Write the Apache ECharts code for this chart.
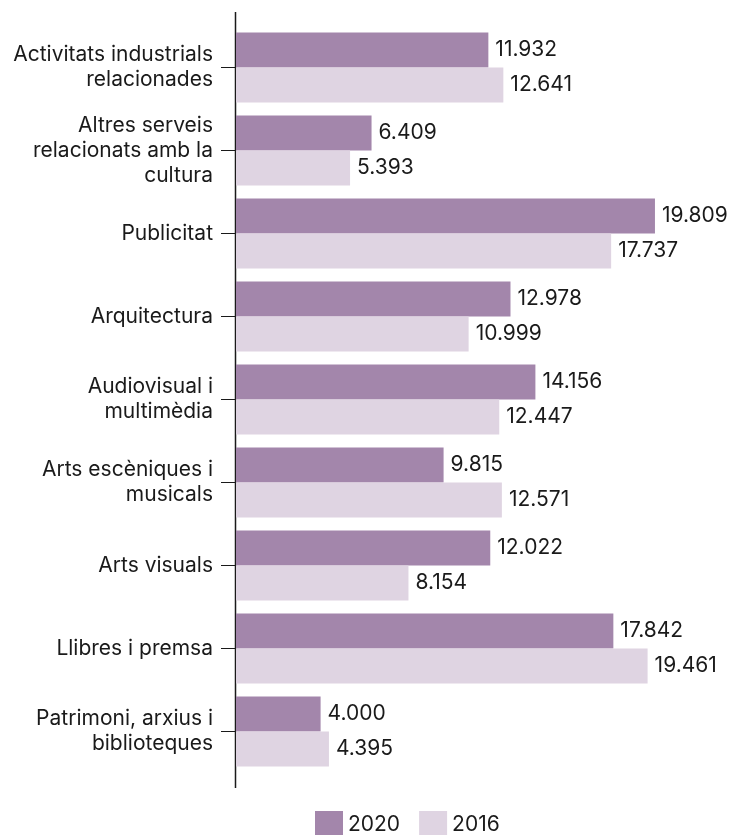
<!DOCTYPE html>
<html><head><meta charset="utf-8">
<script src="https://cdn.jsdelivr.net/npm/echarts@6/dist/echarts.min.js"></script>
<style>html,body{margin:0;padding:0;background:#fff}#c{width:731px;height:835px}</style>
</head><body><div id="c"></div>
<script>
const categories = ["Activitats industrials\nrelacionades","Altres serveis\nrelacionats amb la\ncultura","Publicitat","Arquitectura","Audiovisual i\nmultimèdia","Arts escèniques i\nmusicals","Arts visuals","Llibres i premsa","Patrimoni, arxius i\nbiblioteques"];
const values2020 = [11932, 6409, 19809, 12978, 14156, 9815, 12022, 17842, 4000];
const values2016 = [12641, 5393, 17737, 10999, 12447, 12571, 8154, 19461, 4395];
const seriesNames = ["2020", "2016"];

const FONT = "Inter";
const fmt = v => String(v).replace(/\B(?=(\d{3})+(?!\d))/g, ".");
const chart = echarts.init(document.getElementById('c'), null, {renderer:'canvas'});
const labelCfg = {show:true, position:'right', distance:7, color:'#1a1a1a', fontFamily:FONT, fontSize:21, formatter:p=>fmt(p.value)};
chart.setOption({
  animation:false,
  textStyle:{fontFamily:FONT},
  grid:{left:236, top:26, height:747, width:423},
  xAxis:{type:'value', min:0, max:20000, show:false},
  yAxis:{type:'category', data:categories, inverse:true,
    axisLine:{show:false},
    axisTick:{show:true, length:15, alignWithLabel:true, lineStyle:{color:'#1a1a1a', width:1}},
    axisLabel:{color:'#1a1a1a', fontFamily:FONT, fontSize:21, lineHeight:25, margin:23, align:'right'}
  },
  legend:{top:811, left:315, padding:0, itemWidth:28, itemHeight:28, itemGap:19,
    textStyle:{color:'#1a1a1a', fontFamily:FONT, fontSize:21},
    data:seriesNames, icon:'rect'},
  series:[
    {name:seriesNames[0], type:'bar', data:values2020, barWidth:35, barGap:'0%', itemStyle:{color:'#a386ab'}, label:labelCfg},
    {name:seriesNames[1], type:'bar', data:values2016, barWidth:35, barGap:'0%', itemStyle:{color:'#dfd4e2'}, label:labelCfg}
  ],
  graphic:[{type:'line', shape:{x1:235.5, y1:12, x2:235.5, y2:788}, style:{stroke:'#1a1a1a', lineWidth:1.5}}]
});
</script></body></html>
